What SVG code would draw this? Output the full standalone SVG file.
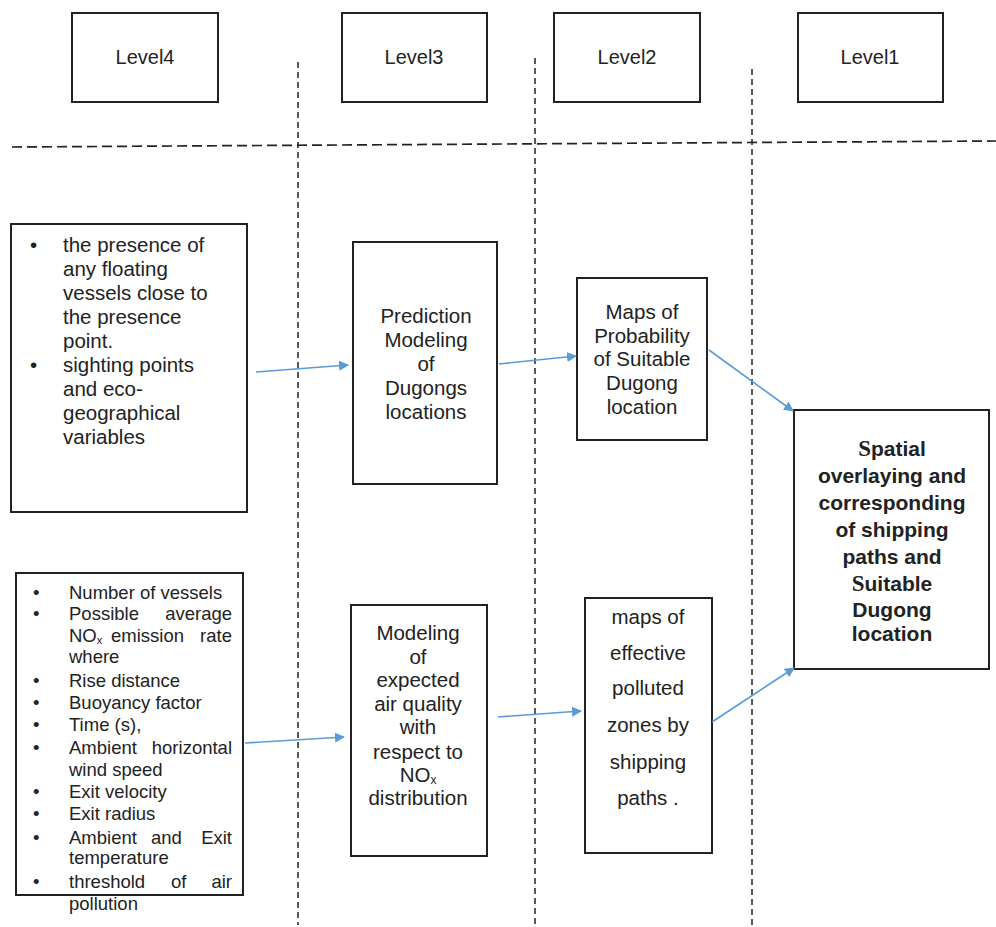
<svg xmlns="http://www.w3.org/2000/svg" width="996" height="927" viewBox="0 0 996 927">
<defs>
<marker id="ah" viewBox="0 0 10 10" refX="9" refY="5" markerWidth="10" markerHeight="10" markerUnits="userSpaceOnUse" orient="auto">
<path d="M0,0 L10,5 L0,10 z" fill="#5b9bd5"/>
</marker>
<style>
.box{fill:#fff;stroke:#222;stroke-width:2}
.t{font-family:"Liberation Sans",Arial,sans-serif;fill:#222}
.lv{font-size:20px;text-anchor:middle}
.c{text-anchor:middle;font-size:20.5px}
.b{font-size:20.5px}
.s{font-size:18.5px}
.e{text-anchor:end}
.bold{font-weight:bold;font-size:21px;text-anchor:middle}
.hd{stroke:#222;stroke-width:1.7;stroke-dasharray:10 5;fill:none}
.vd{stroke:#222;stroke-width:1.5;stroke-dasharray:6 4;fill:none}
.ar{stroke:#5b9bd5;stroke-width:1.6;fill:none;marker-end:url(#ah)}
</style>
</defs>
<rect width="996" height="927" fill="#fff"/>
<g id="grid">
<path class="hd" d="M12,147 L996,141"/>
<path class="vd" d="M298,62 L298,925"/>
<path class="vd" d="M535,58 L535,925"/>
<path class="vd" d="M752,69 L752,925"/>
</g>
<g id="level4"><rect class="box" x="72" y="13" width="146" height="89"/><text class="t lv" x="145" y="64">Level4</text></g>
<g id="level3"><rect class="box" x="342" y="13" width="145" height="89"/><text class="t lv" x="414" y="64">Level3</text></g>
<g id="level2"><rect class="box" x="554" y="13" width="146" height="89"/><text class="t lv" x="627" y="64">Level2</text></g>
<g id="level1"><rect class="box" x="798" y="13" width="145" height="89"/><text class="t lv" x="870" y="64">Level1</text></g>

<g id="inputs-dugong">
<rect class="box" x="11" y="224" width="236" height="288"/>
<g class="t b">
<text x="30" y="252">•</text>
<text x="63" y="252">the presence of</text>
<text x="63" y="276">any floating</text>
<text x="63" y="300">vessels close to</text>
<text x="63" y="324">the presence</text>
<text x="63" y="348">point.</text>
<text x="30" y="372">•</text>
<text x="63" y="372">sighting points</text>
<text x="63" y="396">and eco-</text>
<text x="63" y="420">geographical</text>
<text x="63" y="444">variables</text>
</g>
</g>

<g id="prediction">
<rect class="box" x="353" y="242" width="144" height="242"/>
<g class="t c">
<text x="426" y="323">Prediction</text>
<text x="426" y="347">Modeling</text>
<text x="426" y="371">of</text>
<text x="426" y="395">Dugongs</text>
<text x="426" y="419">locations</text>
</g>
</g>

<g id="maps-probability">
<rect class="box" x="577" y="278" width="130" height="162"/>
<g class="t c">
<text x="642" y="319">Maps of</text>
<text x="642" y="343">Probability</text>
<text x="642" y="366">of Suitable</text>
<text x="642" y="390">Dugong</text>
<text x="642" y="414">location</text>
</g>
</g>

<g id="spatial">
<rect class="box" x="794" y="410" width="195" height="259"/>
<g class="t bold">
<text x="892" y="456"><tspan font-family="Liberation Serif,serif" font-size="23px">S</tspan>patial</text>
<text x="892" y="483">overlaying and</text>
<text x="892" y="510">corresponding</text>
<text x="892" y="537">of shipping</text>
<text x="892" y="564">paths and</text>
<text x="892" y="591"><tspan font-family="Liberation Serif,serif" font-size="23px">S</tspan>uitable</text>
<text x="892" y="617">Dugong</text>
<text x="892" y="641">location</text>
</g>
</g>

<g id="inputs-air">
<rect class="box" x="16" y="573" width="227" height="322"/>
<g class="t s">
<text x="33" y="599">•</text><text x="69" y="599">Number of vessels</text>
<text x="33" y="620">•</text><text x="69" y="620">Possible</text><text class="e" x="232" y="620">average</text>
<text x="69" y="642">NO<tspan font-size="11px" dy="2">x</tspan></text><text x="111" y="642">emission</text><text class="e" x="232" y="642">rate</text>
<text x="69" y="663">where</text>
<text x="33" y="687">•</text><text x="69" y="687">Rise distance</text>
<text x="33" y="709">•</text><text x="69" y="709">Buoyancy factor</text>
<text x="33" y="731">•</text><text x="69" y="731">Time (s),</text>
<text x="33" y="754">•</text><text x="69" y="754">Ambient</text><text class="e" x="232" y="754">horizontal</text>
<text x="69" y="776">wind speed</text>
<text x="33" y="798">•</text><text x="69" y="798">Exit velocity</text>
<text x="33" y="820">•</text><text x="69" y="820">Exit radius</text>
<text x="33" y="844">•</text><text x="69" y="844">Ambient</text><text x="151" y="844">and</text><text class="e" x="232" y="844">Exit</text>
<text x="69" y="864">temperature</text>
<text x="33" y="888">•</text><text x="69" y="888">threshold</text><text x="171" y="888">of</text><text class="e" x="232" y="888">air</text>
<text x="69" y="910">pollution</text>
</g>
</g>

<g id="modeling-air">
<rect class="box" x="351" y="605" width="136" height="251"/>
<g class="t c">
<text x="418" y="640">Modeling</text>
<text x="418" y="664">of</text>
<text x="418" y="687">expected</text>
<text x="418" y="711">air quality</text>
<text x="418" y="734">with</text>
<text x="418" y="759">respect to</text>
<text x="418" y="782">NO<tspan font-size="12px" dy="2">x</tspan></text>
<text x="418" y="805">distribution</text>
</g>
</g>

<g id="maps-polluted">
<rect class="box" x="585" y="598" width="127" height="255"/>
<g class="t c">
<text x="648" y="624">maps of</text>
<text x="648" y="660">effective</text>
<text x="648" y="695">polluted</text>
<text x="648" y="732">zones by</text>
<text x="648" y="769">shipping</text>
<text x="648" y="805">paths .</text>
</g>
</g>

<g id="connectors">
<path class="ar" d="M256,372 L348,365"/>
<path class="ar" d="M499,364 L576,356"/>
<path class="ar" d="M709,350 L793,411"/>
<path class="ar" d="M245,743 L344,737"/>
<path class="ar" d="M498,717 L581,711"/>
<path class="ar" d="M712,722 L794,668"/>
</g>
</svg>
